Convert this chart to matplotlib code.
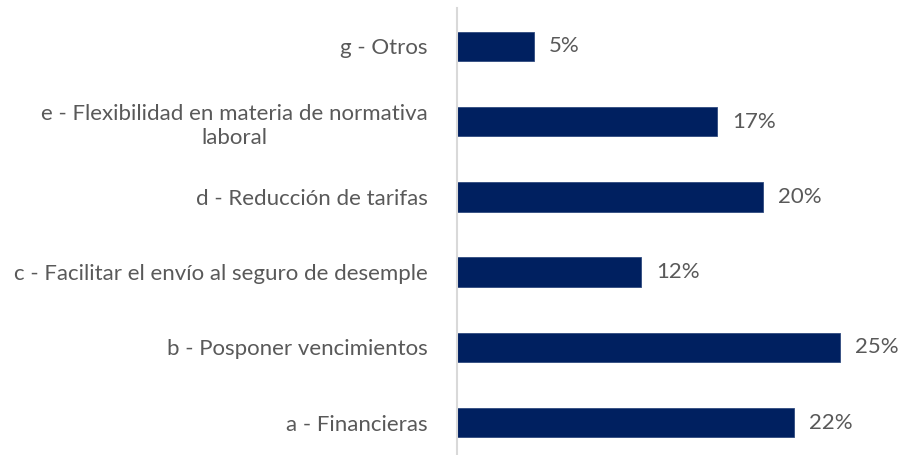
import matplotlib.pyplot as plt

plt.rcParams["font.family"] = ["Lato", "DejaVu Sans"]

# Survey answers, bottom to top as drawn
categories = [
    "a - Financieras",
    "b - Posponer vencimientos",
    "c - Facilitar el envío al seguro de desemple",
    "d - Reducción de tarifas",
    "e - Flexibilidad en materia de normativa\nlaboral",
    "g - Otros",
]
shares = [22, 25, 12, 20, 17, 5]

bar_color = "#002060"
text_color = "#595959"


def main():
    fig = plt.figure(figsize=(9, 4.55), dpi=100)
    ax = fig.add_axes([457 / 900, 0, 433 / 900, 447 / 455])

    pos = list(range(len(categories)))
    ax.barh(pos, shares, height=0.39, color=bar_color, edgecolor="#2f4a7f", linewidth=0.6)

    for y, v in zip(pos, shares):
        ax.text(v + 1.0, y, f"{v}%", va="center", ha="left",
                fontsize=16, color=text_color)

    ax.set_xlim(0, 28.3)
    ax.set_ylim(-0.43, 5.51)
    ax.set_xticks([])
    ax.set_yticks(pos)
    ax.set_yticklabels(categories, fontsize=16, color=text_color,
                       multialignment="center", linespacing=1.3)
    ax.tick_params(axis="y", length=0, pad=21)

    for side in ["top", "right", "bottom"]:
        ax.spines[side].set_visible(False)
    ax.spines["left"].set_color("#d9d9d9")
    ax.spines["left"].set_linewidth(1.5)

    fig.savefig("out.png", dpi=100)


if __name__ == "__main__":
    main()
